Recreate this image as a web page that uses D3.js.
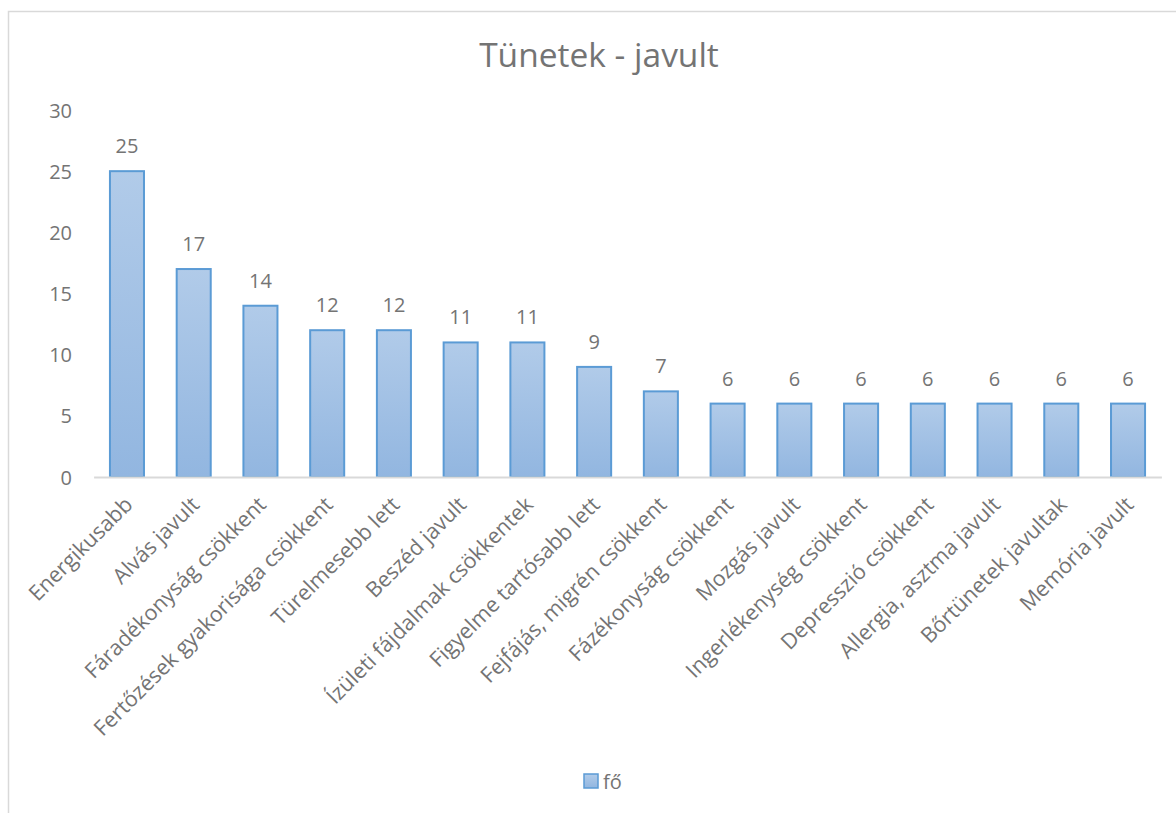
<!DOCTYPE html>
<html><head><meta charset="utf-8">
<script src="https://cdn.jsdelivr.net/npm/d3@7"></script>
<style>body{margin:0;background:#fff;}svg{display:block;font-family:"Open Sans",sans-serif;}</style>
</head><body><svg id="c" width="1176" height="813"></svg>
<script>
const categories = ["Energikusabb","Alvás javult","Fáradékonyság csökkent","Fertőzések gyakorisága csökkent","Türelmesebb lett","Beszéd javult","Ízületi fájdalmak csökkentek","Figyelme tartósabb lett","Fejfájás, migrén csökkent","Fázékonyság csökkent","Mozgás javult","Ingerlékenység csökkent","Depresszió csökkent","Allergia, asztma javult","Bőrtünetek javultak","Memória javult"];
const values = [25,17,14,12,12,11,11,9,7,6,6,6,6,6,6,6];
const yTicks = [0,5,10,15,20,25,30];
const title = "Tünetek - javult";
const seriesName = "fő";

const svg = d3.select("#c");
const txt = "#747474";
const fs = 20;
svg.append("rect").attr("x",8.5).attr("y",11.5).attr("width",1180).attr("height",820).attr("fill","#fff").attr("stroke","#d9d9d9").attr("stroke-width",1.5);

const defs = svg.append("defs");
const g1 = defs.append("linearGradient").attr("id","bg").attr("x1",0).attr("y1",0).attr("x2",0).attr("y2",1);
g1.append("stop").attr("offset","0%").attr("stop-color","#b1cbe9");
g1.append("stop").attr("offset","100%").attr("stop-color","#92b6e0");

const x = d3.scaleBand().domain(categories).range([93.6,1161.4]).paddingInner(0.49).paddingOuter(0.245);
const y = d3.scaleLinear().domain([0,30]).range([477,110]);

svg.append("text").attr("x",599).attr("y",67).attr("text-anchor","middle").attr("fill",txt).attr("font-size",33.5).text(title);

const ya = svg.append("g").attr("transform","translate(72,0)").call(d3.axisLeft(y).tickValues(yTicks).tickSize(0).tickPadding(0));
ya.select(".domain").remove();
ya.selectAll("text").attr("fill",txt).attr("font-size",fs).attr("font-family","Open Sans").attr("dy","0.35em");

svg.append("g").selectAll("rect").data(values).join("rect")
 .attr("x",(d,i)=>x(categories[i])).attr("width",x.bandwidth())
 .attr("y",d=>y(d)).attr("height",d=>y(0)-y(d))
 .attr("fill","url(#bg)").attr("stroke","#5b9bd5").attr("stroke-width",2);

const xa = svg.append("g").attr("transform","translate(0,477)").call(d3.axisBottom(x).tickSize(0).tickPadding(0));
xa.select(".domain").attr("stroke","#d9d9d9").attr("stroke-width",2);
xa.selectAll("text").attr("fill",txt).attr("font-size",21.5).attr("font-family","Open Sans")
 .attr("text-anchor","end").attr("dy",0).attr("transform","translate(7,29) rotate(-45)");

svg.append("g").selectAll("text").data(values).join("text")
 .attr("x",(d,i)=>x(categories[i])+x.bandwidth()/2).attr("y",d=>y(d)-18)
 .attr("text-anchor","middle").attr("fill",txt).attr("font-size",fs).text(d=>d);

const lg = svg.append("g");
lg.append("rect").attr("x",584).attr("y",774).attr("width",14).attr("height",14).attr("fill","url(#bg)").attr("stroke","#5b9bd5").attr("stroke-width",1.5);
lg.append("text").attr("x",603).attr("y",789).attr("fill",txt).attr("font-size",fs).text(seriesName);
</script></body></html>
